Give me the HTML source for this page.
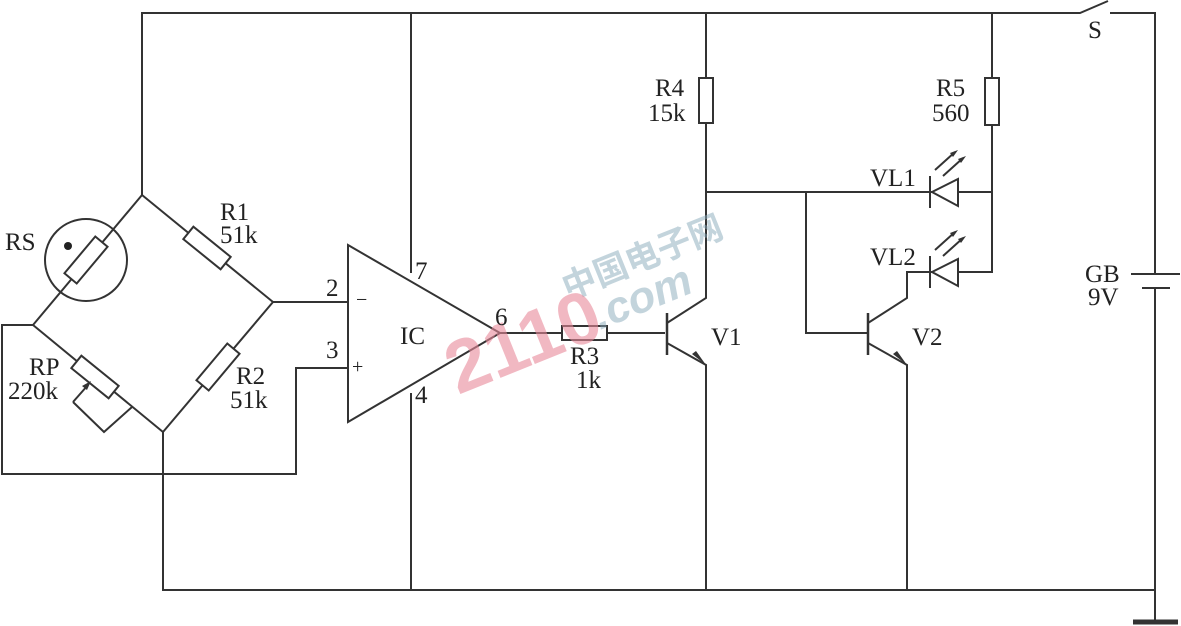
<!DOCTYPE html>
<html><head><meta charset="utf-8"><style>
html,body{margin:0;padding:0;background:#fff;}
svg{display:block;}
text{font-family:"Liberation Serif",serif;fill:#222;font-size:25px;}
</style></head><body>
<svg width="1181" height="626" viewBox="0 0 1181 626" xmlns="http://www.w3.org/2000/svg">
<g stroke="#333" stroke-width="2" fill="none">
<polyline points="142,195 142,13 1080,13 1108,1"/>
<polyline points="1110,13 1155,13 1155,274"/>
<line x1="1131" y1="274" x2="1180" y2="274"/>
<line x1="1142" y1="288" x2="1170" y2="288"/>
<polyline points="1155,288 1155,622"/>
<line x1="1133" y1="622" x2="1178" y2="622" stroke-width="5"/>
<polyline points="163,432 163,590 1155,590"/>
<line x1="142" y1="195" x2="273" y2="302"/>
<line x1="273" y1="302" x2="163" y2="432"/>
<line x1="142" y1="195" x2="33" y2="325"/>
<line x1="33" y1="325" x2="163" y2="432"/>
<circle cx="86" cy="260" r="41"/>
<polyline points="33,325 2,325 2,474 296,474 296,368 348,368"/>
<line x1="273" y1="302" x2="348" y2="302"/>
<polygon points="348,245 348,422 500,333"/>
<line x1="411" y1="13" x2="411" y2="273"/>
<line x1="411" y1="393" x2="411" y2="590"/>
<line x1="500" y1="333" x2="665" y2="333"/>
<line x1="667" y1="313" x2="667" y2="355" stroke-width="2.5"/>
<polyline points="667,323 706,298 706,13"/>
<polyline points="667,343 706,365 706,590"/>
<line x1="706" y1="192" x2="992" y2="192"/>
<polyline points="806,192 806,333 868,333"/>
<line x1="868" y1="313" x2="868" y2="355" stroke-width="2.5"/>
<polyline points="868,323 907,298 907,272 960,272"/>
<polyline points="868,343 907,365 907,590"/>
<polyline points="992,13 992,272 960,272"/>
<polygon points="932,192 958,179 958,206" fill="#fff"/>
<line x1="930" y1="176" x2="930" y2="208"/>
<polygon points="932,272 958,259 958,286" fill="#fff"/>
<line x1="930" y1="256" x2="930" y2="288"/>
<line x1="935" y1="170" x2="955" y2="152"/><line x1="943" y1="176" x2="963" y2="158"/>
<line x1="935" y1="250" x2="955" y2="232"/><line x1="943" y1="256" x2="963" y2="238"/>
</g>
<g fill="#fff" stroke="#333" stroke-width="2">
<rect x="699" y="78" width="14" height="45"/>
<rect x="985" y="78" width="14" height="47"/>
<rect x="562" y="326" width="45" height="14"/>
<rect x="-24" y="-8" width="48" height="16" transform="translate(207,248) rotate(39)"/>
<rect x="-24" y="-8" width="48" height="16" transform="translate(218,367) rotate(-50)"/>
<rect x="-24" y="-8" width="48" height="16" transform="translate(86,260) rotate(-50)"/>
<rect x="-24" y="-8" width="48" height="16" transform="translate(95,377) rotate(39)"/>
<polyline fill="none" points="73,402 104,432 132,407"/>
</g>
<circle cx="68" cy="246" r="4" fill="#222"/>
<line x1="73" y1="402" x2="88" y2="385" stroke="#333" stroke-width="2"/>
<g fill="#333">
<polygon points="91,381 82,386 87,390"/>
<polygon points="706,365 692,354 696,351"/>
<polygon points="907,365 893,354 897,351"/>
<polygon points="958,150 950,153 953,157"/><polygon points="966,156 958,159 961,163"/>
<polygon points="958,230 950,233 953,237"/><polygon points="966,236 958,239 961,243"/>
</g>
<text x="568" y="300" transform="rotate(-22 568 300)" style="font-family:'Liberation Sans','Noto Sans CJK SC',sans-serif;font-size:34px;font-weight:bold;fill:#8ab;opacity:0.5">中国电子网</text>
<text x="600" y="330" transform="rotate(-22 600 330)" style="font-family:'Liberation Sans',sans-serif;font-size:44px;font-weight:bold;font-style:italic;fill:#8ab;opacity:0.5">.com</text>
<text x="458" y="395" transform="rotate(-22 458 395)" style="font-family:'Liberation Sans',sans-serif;font-size:74px;font-weight:bold;fill:#e8899a;opacity:0.6">2110</text>
<text x="5" y="250">RS</text>
<text x="220" y="220">R1</text><text x="220" y="243">51k</text>
<text x="29" y="375">RP</text><text x="8" y="399">220k</text>
<text x="236" y="384">R2</text><text x="230" y="408">51k</text>
<text x="326" y="296">2</text><text x="326" y="358">3</text>
<text x="356" y="306" style="font-size:20px">−</text><text x="352" y="373" style="font-size:20px">+</text>
<text x="415" y="279">7</text><text x="415" y="403">4</text>
<text x="400" y="344">IC</text>
<text x="495" y="325">6</text>
<text x="570" y="364">R3</text><text x="576" y="388">1k</text>
<text x="655" y="96">R4</text><text x="648" y="121">15k</text>
<text x="936" y="96">R5</text><text x="932" y="121">560</text>
<text x="870" y="186">VL1</text><text x="870" y="265">VL2</text>
<text x="711" y="345">V1</text><text x="912" y="345">V2</text>
<text x="1088" y="38">S</text>
<text x="1085" y="282">GB</text><text x="1088" y="305">9V</text>
</svg>
</body></html>
